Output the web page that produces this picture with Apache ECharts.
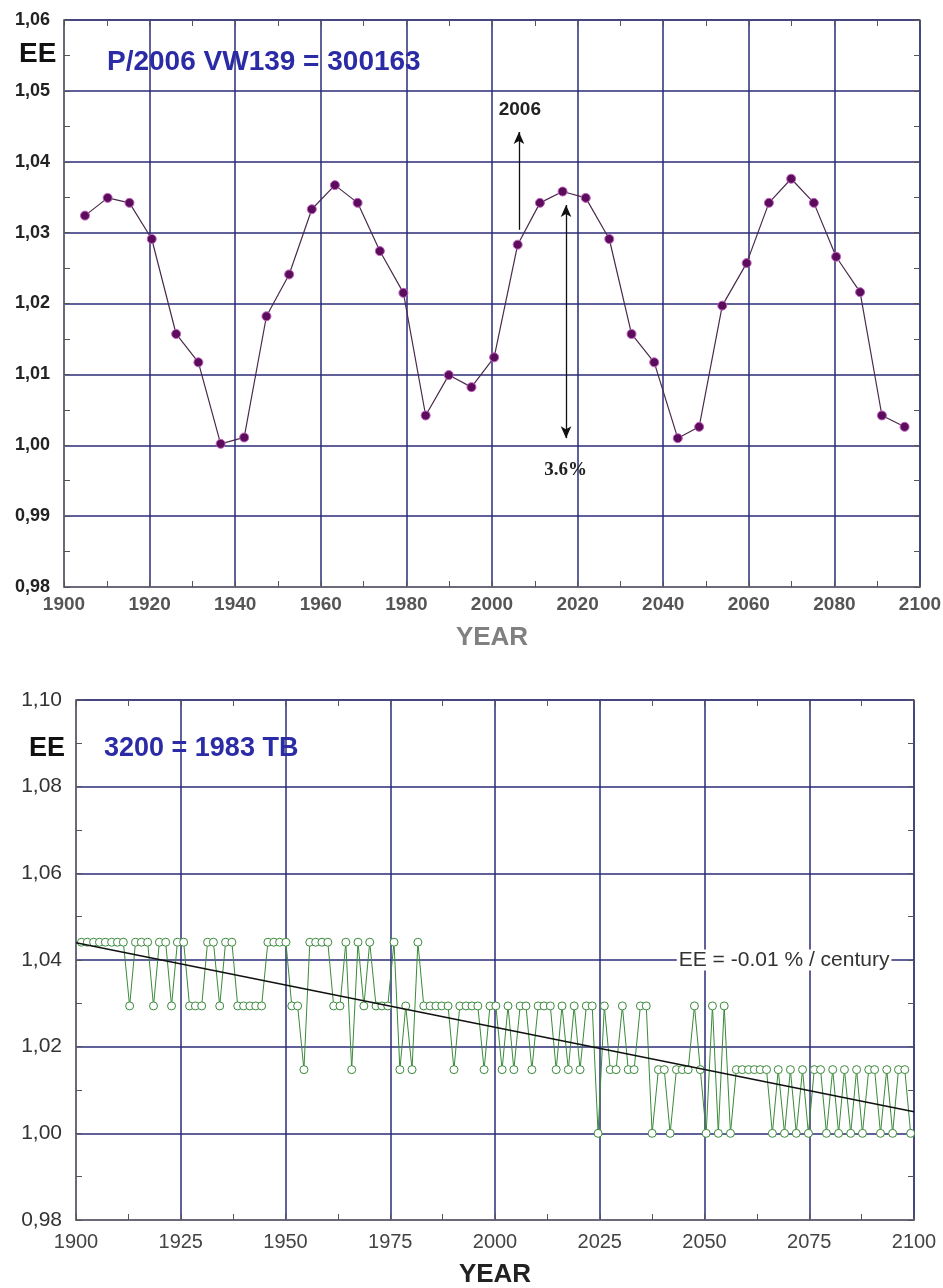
<!DOCTYPE html>
<html><head><meta charset="utf-8">
<script src="https://cdn.jsdelivr.net/npm/echarts@6/dist/echarts.min.js"></script>
<style>html,body{margin:0;padding:0;background:#fff}#c{width:943px;height:1288px}</style>
</head><body><div id="c"></div>
<script>
// ---------- top chart (P/2006 VW139) ----------
const topYears = [1904.9, 1910.2, 1915.3, 1920.5, 1926.2, 1931.4, 1936.6, 1942.1, 1947.3, 1952.6,
  1957.9, 1963.3, 1968.6, 1973.8, 1979.3, 1984.5, 1989.9, 1995.2, 2000.5, 2006.0,
  2011.2, 2016.5, 2021.9, 2027.4, 2032.6, 2037.9, 2043.4, 2048.4, 2053.8, 2059.5,
  2064.7, 2069.9, 2075.2, 2080.4, 2086.0, 2091.1, 2096.4];
const topValues = [1.0324, 1.0349, 1.0342, 1.0291, 1.0157, 1.0117, 1.0002, 1.0011, 1.0182, 1.0241,
  1.0333, 1.0367, 1.0342, 1.0274, 1.0215, 1.0042, 1.0099, 1.0082, 1.0124, 1.0283,
  1.0342, 1.0358, 1.0349, 1.0291, 1.0157, 1.0117, 1.0010, 1.0026, 1.0197, 1.0257,
  1.0342, 1.0376, 1.0342, 1.0266, 1.0216, 1.0042, 1.0026];
const arrowUpYears = [2006.3, 2006.3];
const arrowUpValues = [1.0304, 1.0442];
const arrowSpanYears = [2017.3, 2017.3];
const arrowSpanValues = [1.0339, 1.0010];
const topNotes = ['2006', '3.6%'];
const topNoteYears = [2006.5, 2017.2];
const topNoteValues = [1.0474, 0.9965];

// ---------- bottom chart (3200 = 1983 TB) ----------
const botYears = [1901.3, 1902.7, 1904.2, 1905.6, 1907.0, 1908.5, 1909.9, 1911.3, 1912.8, 1914.2,
  1915.6, 1917.1, 1918.5, 1919.9, 1921.4, 1922.8, 1924.2, 1925.7, 1927.1, 1928.5,
  1930.0, 1931.4, 1932.8, 1934.3, 1935.7, 1937.2, 1938.6, 1940.0, 1941.5, 1942.9,
  1944.3, 1945.8, 1947.2, 1948.6, 1950.1, 1951.5, 1952.9, 1954.4, 1955.8, 1957.2,
  1958.7, 1960.1, 1961.5, 1963.0, 1964.4, 1965.8, 1967.3, 1968.7, 1970.1, 1971.6,
  1973.0, 1974.4, 1975.9, 1977.3, 1978.7, 1980.2, 1981.6, 1983.0, 1984.5, 1985.9,
  1987.3, 1988.8, 1990.2, 1991.6, 1993.1, 1994.5, 1995.9, 1997.4, 1998.8, 2000.2,
  2001.7, 2003.1, 2004.5, 2006.0, 2007.4, 2008.8, 2010.3, 2011.7, 2013.2, 2014.6,
  2016.0, 2017.5, 2018.9, 2020.3, 2021.8, 2023.2, 2024.6, 2026.1, 2027.5, 2028.9,
  2030.4, 2031.8, 2033.2, 2034.7, 2036.1, 2037.5, 2039.0, 2040.4, 2041.8, 2043.3,
  2044.7, 2046.1, 2047.6, 2049.0, 2050.4, 2051.9, 2053.3, 2054.7, 2056.2, 2057.6,
  2059.0, 2060.5, 2061.9, 2063.3, 2064.8, 2066.2, 2067.6, 2069.1, 2070.5, 2071.9,
  2073.4, 2074.8, 2076.2, 2077.7, 2079.1, 2080.6, 2082.0, 2083.4, 2084.9, 2086.3,
  2087.7, 2089.2, 2090.6, 2092.0, 2093.5, 2094.9, 2096.3, 2097.8, 2099.2];
const botValues = [1.0441,1.0441,1.0441,1.0441,1.0441,1.0441,1.0441,1.0441,1.0294,1.0441,
  1.0441,1.0441,1.0294,1.0441,1.0441,1.0294,1.0441,1.0441,1.0294,1.0294,
  1.0294,1.0441,1.0441,1.0294,1.0441,1.0441,1.0294,1.0294,1.0294,1.0294,
  1.0294,1.0441,1.0441,1.0441,1.0441,1.0294,1.0294,1.0147,1.0441,1.0441,
  1.0441,1.0441,1.0294,1.0294,1.0441,1.0147,1.0441,1.0294,1.0441,1.0294,
  1.0294,1.0294,1.0441,1.0147,1.0294,1.0147,1.0441,1.0294,1.0294,1.0294,
  1.0294,1.0294,1.0147,1.0294,1.0294,1.0294,1.0294,1.0147,1.0294,1.0294,
  1.0147,1.0294,1.0147,1.0294,1.0294,1.0147,1.0294,1.0294,1.0294,1.0147,
  1.0294,1.0147,1.0294,1.0147,1.0294,1.0294,1.0000,1.0294,1.0147,1.0147,
  1.0294,1.0147,1.0147,1.0294,1.0294,1.0000,1.0147,1.0147,1.0000,1.0147,
  1.0147,1.0147,1.0294,1.0147,1.0000,1.0294,1.0000,1.0294,1.0000,1.0147,
  1.0147,1.0147,1.0147,1.0147,1.0147,1.0000,1.0147,1.0000,1.0147,1.0000,
  1.0147,1.0000,1.0147,1.0147,1.0000,1.0147,1.0000,1.0147,1.0000,1.0147,
  1.0000,1.0147,1.0147,1.0000,1.0147,1.0000,1.0147,1.0147,1.0000];
const trendYears = [1900, 2100];
const trendValues = [1.0440, 1.0050];
const trendNote = 'EE = -0.01 % / century';
const trendNoteYear = 2069;
const trendNoteValue = 1.04;

const zip = (a, b) => a.map((v, i) => [v, b[i]]);
const comma = v => v.toFixed(2).replace('.', ',');
const NAVY = '#2b2b78';
const BOX = '#777';

function xAxes(grid, min, max, interval, labelStyle, nameStyle, nameGap) {
  return [{
    gridIndex: grid, type: 'value', min, max, interval, position: 'bottom',
    axisLine: {show: true, lineStyle: {color: BOX, width: 1.5}},
    axisTick: {show: true, inside: true, length: 6, lineStyle: {color: '#555'}},
    minorTick: {show: true, splitNumber: 2, length: 6, lineStyle: {color: '#555'}},
    splitLine: {show: true, lineStyle: {color: NAVY, width: 1.5}},
    axisLabel: Object.assign({formatter: v => String(Math.round(v))}, labelStyle),
    name: 'YEAR', nameLocation: 'middle', nameGap, nameTextStyle: nameStyle
  }, {
    gridIndex: grid, type: 'value', min, max, interval, position: 'top',
    axisLine: {show: false},
    axisTick: {show: true, inside: true, length: 6, lineStyle: {color: '#555'}},
    minorTick: {show: true, splitNumber: 2, length: 6, lineStyle: {color: '#555'}},
    splitLine: {show: false}, axisLabel: {show: false}
  }];
}
function yAxes(grid, min, max, interval, labelStyle) {
  return [{
    gridIndex: grid, type: 'value', min, max, interval, position: 'left',
    axisLine: {show: true, lineStyle: {color: BOX, width: 1.5}},
    axisTick: {show: true, inside: true, length: 6, lineStyle: {color: '#555'}},
    minorTick: {show: true, splitNumber: 2, length: 6, lineStyle: {color: '#555'}},
    splitLine: {show: true, lineStyle: {color: NAVY, width: 1.5}},
    axisLabel: Object.assign({formatter: comma}, labelStyle)
  }, {
    gridIndex: grid, type: 'value', min, max, interval, position: 'right',
    axisLine: {show: false},
    axisTick: {show: true, inside: true, length: 6, lineStyle: {color: '#555'}},
    minorTick: {show: true, splitNumber: 2, length: 6, lineStyle: {color: '#555'}},
    splitLine: {show: false}, axisLabel: {show: false}
  }];
}

const chart = echarts.init(document.getElementById('c'), null, {renderer: 'canvas'});
chart.setOption({
  animation: false,
  backgroundColor: '#fff',
  title: [
    {text: 'EE', left: 14, top: 35, textStyle: {fontFamily: 'Liberation Sans', fontSize: 28, fontWeight: 'bold', color: '#111'}},
    {text: 'P/2006 VW139 = 300163', left: 102, top: 43, textStyle: {fontFamily: 'Liberation Sans', fontSize: 28, fontWeight: 'bold', color: '#2b2ba6'}},
    {text: 'EE', left: 24, top: 730, textStyle: {fontFamily: 'Liberation Sans', fontSize: 27, fontWeight: 'bold', color: '#111'}},
    {text: '3200 = 1983 TB', left: 99, top: 730, textStyle: {fontFamily: 'Liberation Sans', fontSize: 27, fontWeight: 'bold', color: '#2b2ba6'}}
  ],
  grid: [
    {left: 64, top: 20, width: 856, height: 567, show: true, borderColor: BOX, borderWidth: 1.5, outerBoundsMode: 'none', containLabel: false},
    {left: 76, top: 700, width: 838, height: 520, show: true, borderColor: BOX, borderWidth: 1.5, outerBoundsMode: 'none', containLabel: false}
  ],
  xAxis: [
    ...xAxes(0, 1900, 2100, 20,
      {margin: 8, fontFamily: 'Liberation Sans', fontSize: 19, fontWeight: 'bold', color: '#555'},
      {fontFamily: 'Liberation Sans', fontSize: 26, fontWeight: 'bold', color: '#808080'}, 38),
    ...xAxes(1, 1900, 2100, 25,
      {margin: 12, fontFamily: 'Liberation Sans', fontSize: 20, color: '#444'},
      {fontFamily: 'Liberation Sans', fontSize: 26, fontWeight: 'bold', color: '#222'}, 42)
  ],
  yAxis: [
    ...yAxes(0, 0.98, 1.06, 0.01, {margin: 14, fontFamily: 'Liberation Sans', fontSize: 18, fontWeight: 'bold', color: '#222'}),
    ...yAxes(1, 0.98, 1.10, 0.02, {margin: 14, fontFamily: 'Liberation Sans', fontSize: 21, color: '#333'})
  ],
  series: [
    {
      type: 'line', xAxisIndex: 0, yAxisIndex: 0, z: 4,
      data: zip(topYears, topValues),
      symbol: 'circle', symbolSize: 9, showAllSymbol: true,
      itemStyle: {color: '#5b0c5b', borderColor: '#c060c0', borderWidth: 1},
      lineStyle: {color: '#4a2a4a', width: 1.2},
      markLine: {
        silent: true, symbolSize: [8, 12],
        lineStyle: {color: '#111', width: 1.3, type: 'solid'},
        label: {show: false},
        data: [
          [{coord: [arrowUpYears[0], arrowUpValues[0]], symbol: 'none'},
           {coord: [arrowUpYears[1], arrowUpValues[1]], symbol: 'arrow'}],
          [{coord: [arrowSpanYears[0], arrowSpanValues[0]], symbol: 'arrow'},
           {coord: [arrowSpanYears[1], arrowSpanValues[1]], symbol: 'arrow'}]
        ]
      },
      markPoint: {
        silent: true, symbol: 'rect', symbolSize: 0,
        data: [
          {coord: [topNoteYears[0], topNoteValues[0]],
           label: {show: true, position: 'inside', formatter: topNotes[0], fontFamily: 'Liberation Sans', fontWeight: 'bold', fontSize: 19, color: '#222'}},
          {coord: [topNoteYears[1], topNoteValues[1]],
           label: {show: true, position: 'inside', formatter: topNotes[1], fontFamily: 'Liberation Serif', fontWeight: 'bold', fontSize: 19, color: '#222'}}
        ]
      }
    },
    {
      type: 'line', xAxisIndex: 2, yAxisIndex: 2, z: 3,
      data: zip(botYears, botValues),
      symbol: 'circle', symbolSize: 8, showAllSymbol: true,
      itemStyle: {color: '#ffffff', borderColor: '#3a8a3a', borderWidth: 1},
      lineStyle: {color: '#3a8a3a', width: 1}
    },
    {
      type: 'line', xAxisIndex: 2, yAxisIndex: 2, z: 5,
      data: zip(trendYears, trendValues),
      symbol: 'none', lineStyle: {color: '#111', width: 1.5},
      markPoint: {
        silent: true, symbol: 'rect', symbolSize: 0,
        data: [{coord: [trendNoteYear, trendNoteValue],
          label: {show: true, position: 'inside', formatter: trendNote, fontFamily: 'Liberation Sans', fontSize: 21, color: '#333',
                  backgroundColor: '#fff', padding: [0, 2]}}]
      }
    }
  ]
});
</script></body></html>
